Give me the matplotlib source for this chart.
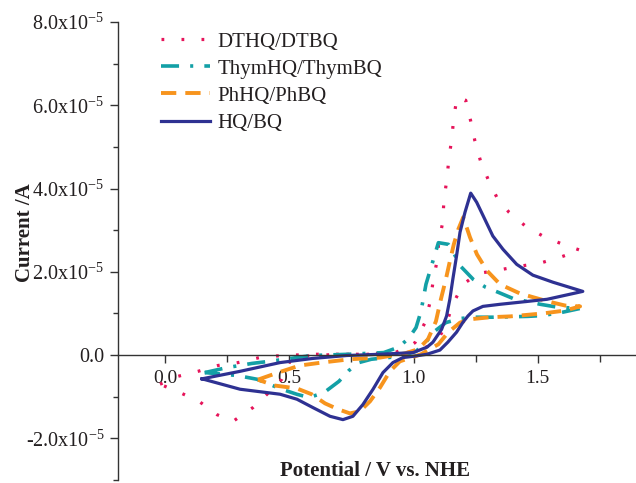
import matplotlib
matplotlib.use("Agg")
import matplotlib.pyplot as plt
from matplotlib.ticker import MultipleLocator, FixedLocator, FuncFormatter

plt.rcParams['font.family'] = ['Liberation Serif', 'DejaVu Serif']
plt.rcParams['mathtext.fontset'] = 'custom'
plt.rcParams['mathtext.rm'] = 'Liberation Serif'
plt.rcParams['mathtext.it'] = 'Liberation Serif:italic'
plt.rcParams['mathtext.bf'] = 'Liberation Serif:bold'
plt.rcParams['lines.scale_dashes'] = False

SCALE = 1e-5  # currents below are in units of 1e-5 A

# DTHQ/DTBQ
dthq_x = [-0.02, 0.052, 0.133, 0.213, 0.294, 0.38, 0.47, 0.61, 0.78, 0.925, 0.977, 1.006,
          1.046, 1.066, 1.078, 1.094, 1.102, 1.118, 1.122, 1.134, 1.142, 1.154, 1.162, 1.175,
          1.21, 1.23, 1.247, 1.27, 1.30, 1.335, 1.384, 1.452, 1.529, 1.61, 1.67,
          1.59, 1.504, 1.42, 1.34, 1.26, 1.199, 1.158, 1.134, 1.106, 1.058, 1.006, 0.925,
          0.70, 0.54, 0.503, 0.47, 0.414, 0.354, 0.274, 0.209, 0.137, 0.06, -0.02]
dthq_y = [-0.70, -0.51, -0.39, -0.25, -0.18, -0.06, -0.01, 0.02, 0.02, 0.06, 0.18, 0.30,
          0.78, 1.26, 1.74, 2.25, 2.73, 3.21, 3.71, 4.22, 4.70, 5.21, 5.71, 6.19,
          6.12, 5.62, 5.14, 4.65, 4.22, 3.79, 3.43, 3.09, 2.83, 2.64, 2.52,
          2.35, 2.20, 2.13, 2.04, 1.96, 1.70, 1.22, 0.79, 0.45, 0.21, 0.09, 0.02,
          0.02, -0.03, -0.15, -0.58, -0.92, -1.26, -1.59, -1.43, -1.11, -0.90, -0.70]

# ThymHQ/ThymBQ
thym_x = [0.16, 0.25, 0.35, 0.42, 0.59, 0.74, 0.88, 0.94, 0.98, 1.01, 1.03, 1.05, 1.07,
          1.10, 1.14, 1.16, 1.19, 1.24, 1.29, 1.34, 1.40, 1.51, 1.58, 1.67,
          1.60, 1.52, 1.46, 1.32, 1.25, 1.19, 1.13, 1.08, 1.05, 1.01, 0.945, 0.83, 0.78,
          0.74, 0.70, 0.64, 0.58, 0.53, 0.47, 0.37, 0.29, 0.16]
thym_y = [-0.42, -0.30, -0.20, -0.15, -0.01, 0.02, 0.06, 0.19, 0.40, 0.66, 1.05, 1.70, 2.10,
          2.70, 2.66, 2.47, 2.13, 1.82, 1.63, 1.51, 1.36, 1.22, 1.15, 1.12,
          1.03, 0.95, 0.93, 0.91, 0.91, 0.88, 0.78, 0.55, 0.31, 0.09, -0.03, -0.10, -0.18,
          -0.37, -0.63, -0.90, -1.02, -0.94, -0.82, -0.58, -0.49, -0.42]

# PhHQ/PhBQ
phhq_x = [0.374, 0.455, 0.543, 0.63, 0.744, 0.865, 0.965, 1.018, 1.058, 1.09, 1.11, 1.13,
          1.146, 1.162, 1.18, 1.20, 1.227, 1.255, 1.295, 1.348, 1.428, 1.54, 1.61, 1.67,
          1.61, 1.52, 1.39, 1.31, 1.227, 1.187, 1.14, 1.10, 1.03, 0.945, 0.905, 0.865,
          0.825, 0.784, 0.744, 0.696, 0.644, 0.59, 0.53, 0.44, 0.374]
phhq_y = [-0.59, -0.42, -0.25, -0.18, -0.10, -0.06, 0.04, 0.14, 0.38, 0.81, 1.34, 1.82,
          2.25, 2.66, 3.02, 3.31, 2.83, 2.42, 2.03, 1.70, 1.48, 1.29, 1.19, 1.17,
          1.07, 1.00, 0.93, 0.91, 0.86, 0.78, 0.55, 0.26, 0.02, -0.15, -0.39, -0.78,
          -1.11, -1.35, -1.40, -1.30, -1.16, -0.94, -0.80, -0.73, -0.59]

# HQ/BQ
hq_x = [0.149, 0.302, 0.463, 0.595, 0.732, 0.865, 0.998, 1.054, 1.078, 1.113, 1.133, 1.146,
        1.158, 1.173, 1.187, 1.207, 1.23, 1.254, 1.287, 1.319, 1.36, 1.415, 1.48, 1.561, 1.681,
        1.537, 1.428, 1.348, 1.279, 1.239, 1.219, 1.199, 1.173, 1.138, 1.106, 1.054, 0.998,
        0.957, 0.917, 0.877, 0.837, 0.796, 0.756, 0.716, 0.664, 0.595, 0.531, 0.463, 0.302, 0.149]
hq_y = [-0.57, -0.39, -0.18, -0.08, -0.01, 0.02, 0.06, 0.19, 0.31, 0.62, 0.94, 1.34,
        1.82, 2.38, 2.95, 3.43, 3.89, 3.67, 3.26, 2.86, 2.54, 2.18, 1.92, 1.75, 1.53,
        1.34, 1.27, 1.22, 1.17, 1.06, 0.94, 0.79, 0.55, 0.31, 0.12, 0.02, -0.03,
        -0.06, -0.18, -0.42, -0.82, -1.19, -1.47, -1.55, -1.47, -1.26, -1.06, -0.94, -0.82, -0.57]

labels = ["DTHQ/DTBQ", "ThymHQ/ThymBQ", "PhHQ/PhBQ", "HQ/BQ"]
colors = ["#E6145A", "#13A0A6", "#F7941D", "#2E3192"]

x_major = [0.0, 0.5, 1.0, 1.5]
x_minor = [0.25, 0.75, 1.25, 1.75]

TXT = '#231F20'

fig = plt.figure(figsize=(6.36, 4.83), dpi=100)
ax = fig.add_axes([118/636, 3/483, 518/636, 458/483])

sx = [dthq_x, thym_x, phhq_x, hq_x]
sy = [dthq_y, thym_y, phhq_y, hq_y]
styles = [dict(lw=2.3, dashes=(2.0, 12.4)),
          dict(lw=2.6, dashes=(13, 8, 2.2, 8)),
          dict(lw=2.8, dashes=(11, 6.5)),
          dict(lw=2.3, linestyle='-')]
for x, y, lab, c, st in zip(sx, sy, labels, colors, styles):
    ax.plot(x, [v * SCALE for v in y], color=c, label=lab, solid_joinstyle='round', **st)

ax.set_xlim(-0.189, 1.895)
ax.set_ylim(-3e-5, 8e-5)

for s in ['top', 'right']:
    ax.spines[s].set_visible(False)
ax.spines['bottom'].set_position(('data', 0))
for s in ['left', 'bottom']:
    ax.spines[s].set_color('#333333')
    ax.spines[s].set_linewidth(1.0)

ax.xaxis.set_major_locator(FixedLocator(x_major))
ax.xaxis.set_minor_locator(FixedLocator(x_minor))
ax.xaxis.set_major_formatter(FuncFormatter(lambda v, p: f"{v:.1f}"))
ax.yaxis.set_major_locator(MultipleLocator(2e-5))
ax.yaxis.set_minor_locator(MultipleLocator(1e-5))


def yfmt(v, p):
    if abs(v) < 1e-12:
        return "0.0"
    return f"{v / 1e-5:.1f}x10$^{{\\mathregular{{-5}}}}$"


ax.yaxis.set_major_formatter(FuncFormatter(yfmt))

ax.tick_params(axis='x', which='major', direction='out', length=5.5, width=1.0,
               color='#333333', labelsize=14, labelcolor=TXT, pad=5)
ax.tick_params(axis='x', which='minor', direction='out', length=5.0, width=1.0, color='#333333')
ax.tick_params(axis='y', which='major', direction='out', length=5.8, width=1.0,
               color='#333333', labelsize=14.5, labelcolor=TXT, pad=4)
ax.tick_params(axis='y', which='minor', direction='out', length=3.6, width=1.0, color='#333333')

ax.set_xlabel("Potential / V vs. NHE", fontsize=15, fontweight='bold', color=TXT, va='center')
ax.xaxis.set_label_coords(0.496, 0.02)
ax.set_ylabel("Current /A", fontsize=15, fontweight='bold', color=TXT, va='center')
ax.yaxis.set_label_coords(-0.18, 0.54)

ax.legend(loc='upper left', bbox_to_anchor=(161/636, 1 - 32/483), bbox_transform=fig.transFigure,
          frameon=False, fontsize=15, handlelength=2.35, handletextpad=0.35, labelspacing=0.36,
          borderpad=0, borderaxespad=0, labelcolor=TXT)

fig.savefig("out.png", dpi=100)
